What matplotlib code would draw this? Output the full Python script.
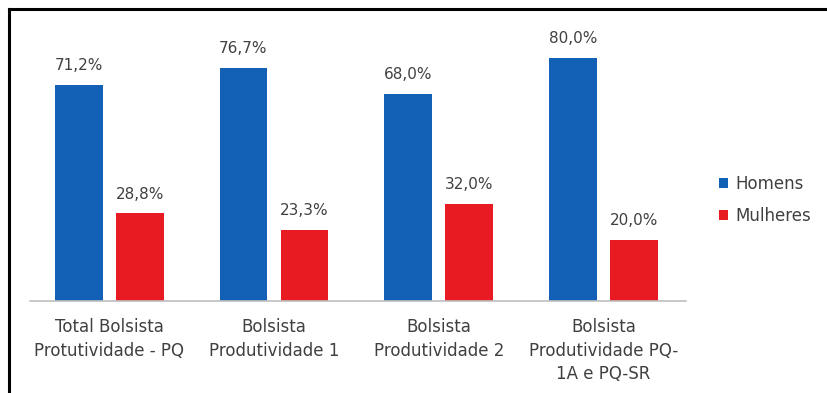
import matplotlib
matplotlib.use("Agg")
import matplotlib.pyplot as plt
import numpy as np
from matplotlib.lines import Line2D

categorias = [
    "Total Bolsista\nProtutividade - PQ",
    "Bolsista\nProdutividade 1",
    "Bolsista\nProdutividade 2",
    "Bolsista\nProdutividade PQ-\n1A e PQ-SR",
]
homens = [71.2, 76.7, 68.0, 80.0]
mulheres = [28.8, 23.3, 32.0, 20.0]
rotulos_homens = ["71,2%", "76,7%", "68,0%", "80,0%"]
rotulos_mulheres = ["28,8%", "23,3%", "32,0%", "20,0%"]

AZUL = "#1261B6"
VERMELHO = "#E91B22"
TEXTO = "#404040"

plt.rcParams["font.family"] = ["DejaVu Sans"]

fig = plt.figure(figsize=(8.27, 3.93), dpi=100)
ax = fig.add_axes([30 / 827, 92 / 393, (686 - 30) / 827, (301 - 27.4) / 393])

x = np.arange(len(categorias))
largura = 0.29
desloc = 0.185
b1 = ax.bar(x - desloc, homens, largura, color=AZUL, label="Homens")
b2 = ax.bar(x + desloc, mulheres, largura, color=VERMELHO, label="Mulheres")

for barras, rotulos in ((b1, rotulos_homens), (b2, rotulos_mulheres)):
    for barra, txt in zip(barras, rotulos):
        ax.annotate(txt, (barra.get_x() + barra.get_width() / 2, barra.get_height()),
                    xytext=(0, 8.5), textcoords="offset points",
                    ha="center", va="bottom", fontsize=11, color=TEXTO)

ax.set_xlim(-0.48, 3.5)
ax.set_ylim(0, 90)
ax.set_xticks(x)
ax.set_xticklabels(categorias, fontsize=12, color=TEXTO, linespacing=1.42)
ax.tick_params(axis="x", length=0, pad=12)
ax.set_yticks([])
for lado in ("top", "right", "left"):
    ax.spines[lado].set_visible(False)
ax.spines["bottom"].set_color("#BFBFBF")
ax.spines["bottom"].set_linewidth(1.2)

ax.legend(loc="center left", bbox_to_anchor=(704 / 827, 1 - 200 / 393),
          bbox_transform=fig.transFigure, frameon=False, fontsize=12,
          handlelength=0.55, handleheight=0.55, handletextpad=0.45,
          labelspacing=0.85, labelcolor=TEXTO)

# moldura: borda superior e esquerda
fig.add_artist(Line2D([9 / 827, 1.0], [1 - 9 / 393, 1 - 9 / 393],
                      transform=fig.transFigure, color="black", linewidth=2.2))
fig.add_artist(Line2D([9 / 827, 9 / 827], [0.0, 1 - 9 / 393],
                      transform=fig.transFigure, color="black", linewidth=2.2))

fig.savefig("out.png", dpi=100)
